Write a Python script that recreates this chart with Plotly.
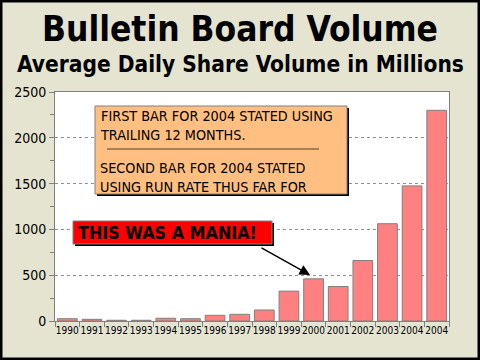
import plotly.graph_objects as go

years = ["1990", "1991", "1992", "1993", "1994", "1995", "1996", "1997",
         "1998", "1999", "2000", "2001", "2002", "2003", "2004", "2004"]
volume = [25, 18, 8, 8, 30, 25, 62, 73, 120, 326, 460, 377, 660, 1062, 1475, 2300]
y_tick_vals = [0, 500, 1000, 1500, 2000, 2500]

W, H = 480, 360
L, R, T, B = 55, 449, 92, 321
FONT = "DejaVu Sans Condensed, Tahoma, DejaVu Sans, sans-serif"


def px(x):
    return (x - L) / (R - L)


def py(y):
    return (B - y) / (B - T)


positions = list(range(len(years)))

fig = go.Figure(go.Bar(
    x=positions, y=volume, width=0.8,
    marker=dict(color="#FF8080", line=dict(color="#7F7F7F", width=1)),
))

shapes = []
# outer frame
shapes.append(dict(type="rect", xref="paper", yref="paper",
                   x0=px(1), x1=px(479), y0=py(1), y1=py(359),
                   line=dict(color="black", width=3), layer="above"))
# orange note box + shadow
shapes.append(dict(type="rect", xref="paper", yref="paper",
                   x0=px(97), x1=px(349), y0=py(108), y1=py(196),
                   fillcolor="black", line=dict(width=0)))
shapes.append(dict(type="rect", xref="paper", yref="paper",
                   x0=px(95), x1=px(347), y0=py(106), y1=py(194),
                   fillcolor="#FFBF80", line=dict(color="#808080", width=1)))
shapes.append(dict(type="line", xref="paper", yref="paper",
                   x0=px(107), x1=px(319), y0=py(149), y1=py(149),
                   line=dict(color="#8C6A48", width=1.5)))
# red callout box + shadow
shapes.append(dict(type="rect", xref="paper", yref="paper",
                   x0=px(75), x1=px(274), y0=py(223), y1=py(246),
                   fillcolor="black", line=dict(width=0)))
shapes.append(dict(type="rect", xref="paper", yref="paper",
                   x0=px(73), x1=px(272), y0=py(221), y1=py(244),
                   fillcolor="#FF0000", line=dict(color="#808080", width=1)))

annotations = [
    dict(text="<b>Bulletin Board Volume</b>", xref="paper", yref="paper",
         x=px(240), y=py(29), xanchor="center", yanchor="middle",
         showarrow=False, font=dict(family=FONT, size=35, color="black")),
    dict(text="<b>Average Daily Share Volume in Millions</b>", xref="paper", yref="paper",
         x=px(240), y=py(64), xanchor="center", yanchor="middle",
         showarrow=False, font=dict(family=FONT, size=22.5, color="black")),
    dict(text="FIRST BAR FOR 2004 STATED USING<br>TRAILING 12 MONTHS.",
         xref="paper", yref="paper", x=px(98), y=py(106), xanchor="left", yanchor="top",
         align="left", showarrow=False, font=dict(family=FONT, size=14.3, color="black")),
    dict(text="SECOND BAR FOR 2004 STATED<br>USING RUN RATE THUS FAR FOR",
         xref="paper", yref="paper", x=px(98), y=py(158), xanchor="left", yanchor="top",
         align="left", showarrow=False, font=dict(family=FONT, size=14.3, color="black")),
    dict(text="<b>THIS WAS A MANIA!</b>", xref="paper", yref="paper",
         x=px(76), y=py(232.5), xanchor="left", yanchor="middle",
         showarrow=False, font=dict(family=FONT, size=17.8, color="black")),
    dict(text="", xref="paper", yref="paper", x=px(310), y=py(275),
         ax=260 - 310, ay=247 - 275, showarrow=True,
         arrowhead=2, arrowsize=1.4, arrowwidth=1.5, arrowcolor="black"),
]

fig.update_layout(
    width=W, height=H,
    margin=dict(l=L, r=W - R, t=T, b=H - B, pad=0, autoexpand=False),
    paper_bgcolor="#E4E4D1", plot_bgcolor="white",
    showlegend=False, shapes=shapes, annotations=annotations,
    bargap=0.2,
    xaxis=dict(
        range=[-0.5, len(years) - 0.5], tickvals=positions, ticktext=years,
        ticks="", tickangle=0, automargin=False,
        tickfont=dict(family=FONT, size=10, color="black"),
        showgrid=False, showline=True, linecolor="#808080", linewidth=1, mirror=True,
        minor=dict(tickvals=[p - 0.5 for p in positions] + [len(years) - 0.5],
                   ticks="outside", ticklen=5, tickcolor="#808080", showgrid=False),
        zeroline=False, fixedrange=True,
    ),
    yaxis=dict(
        range=[0, 2500], tickvals=y_tick_vals, ticks="outside", ticklen=5,
        automargin=False,
        tickcolor="#808080", tickfont=dict(family=FONT, size=14, color="black"),
        showgrid=True, gridcolor="#909090", griddash="dot", gridwidth=1,
        showline=True, linecolor="#808080", linewidth=1, mirror=True,
        minor=dict(dtick=250, tick0=0, ticks="outside", ticklen=4,
                   tickcolor="#808080", showgrid=False),
        zeroline=False, fixedrange=True,
    ),
)

fig.write_html(
    "out.html",
    config={"displayModeBar": False, "staticPlot": True},
    post_script="document.body.style.margin='0px';document.body.style.overflow='hidden';",
)
